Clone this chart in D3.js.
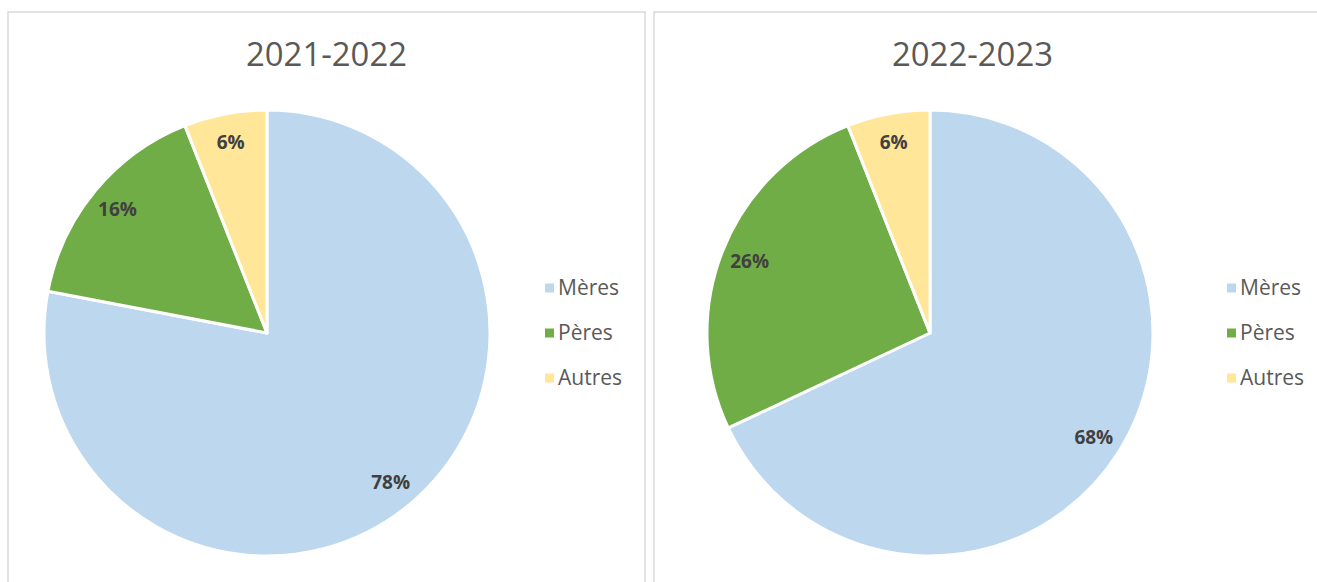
<!DOCTYPE html>
<html>
<head>
<meta charset="utf-8">
<script src="https://cdn.jsdelivr.net/npm/d3@7"></script>
<style>
  body { margin: 0; background: #fff; }
  svg { display: block; }
</style>
</head>
<body>
<svg></svg>
<script>
const categories = ["Mères", "Pères", "Autres"];
const titles = ["2021-2022", "2022-2023"];
const values2122 = [78, 16, 6];
const values2223 = [68, 26, 6];
const colors = ["#BDD7EE", "#70AD47", "#FFE699"];

const width = 1317, height = 582;
const svg = d3.select("svg").attr("width", width).attr("height", height);

const panels = [
  { x: 8, w: 637, cx: 267, title: titles[0], values: values2122, legendX: 545 },
  { x: 654, w: 700, cx: 930, title: titles[1], values: values2223, legendX: 1227 }
];

const radius = 223, cy = 333;
const pie = d3.pie().sort(null).value(d => d);
const arc = d3.arc().innerRadius(0).outerRadius(radius);
const labelArc = d3.arc().innerRadius(radius * 0.87).outerRadius(radius * 0.87);

const color = d3.scaleOrdinal().domain(categories).range(colors);

panels.forEach(p => {
  const g = svg.append("g");

  // panel frame
  g.append("rect")
    .attr("x", p.x).attr("y", 12)
    .attr("width", p.w).attr("height", 620)
    .attr("fill", "#fff")
    .attr("stroke", "#d9d9d9")
    .attr("stroke-width", 1.5);

  g.append("text")
    .attr("x", p.x + 637 / 2)
    .attr("y", 66)
    .attr("text-anchor", "middle")
    .attr("textLength", 161)
    .attr("lengthAdjust", "spacingAndGlyphs")
    .style("font-family", "'Open Sans', sans-serif")
    .style("font-size", "33px")
    .style("fill", "#595959")
    .text(p.title);

  const arcs = pie(p.values);
  const pg = g.append("g").attr("transform", `translate(${p.cx},${cy})`);

  pg.selectAll("path")
    .data(arcs)
    .join("path")
    .attr("d", arc)
    .attr("fill", (d, i) => color(categories[i]))
    .attr("stroke", "#fff")
    .attr("stroke-width", 3)
    .attr("stroke-linejoin", "round");

  pg.selectAll("text")
    .data(arcs)
    .join("text")
    .attr("transform", d => `translate(${labelArc.centroid(d)})`)
    .attr("text-anchor", "middle")
    .attr("dy", "0.35em")
    .style("font-family", "'Open Sans', sans-serif")
    .style("font-weight", "bold")
    .style("font-size", "19px")
    .style("fill", "#404040")
    .text(d => d.data + "%");

  // legend
  const lg = g.append("g").attr("transform", `translate(${p.legendX},0)`);
  categories.forEach((c, i) => {
    const y = 288 + i * 45;
    lg.append("rect")
      .attr("x", 0).attr("y", y - 4.5)
      .attr("width", 9).attr("height", 9)
      .attr("fill", color(c));
    lg.append("text")
      .attr("x", 13).attr("y", y)
      .attr("dy", "0.35em")
      .style("font-family", "'Open Sans', sans-serif")
      .style("font-size", "21px")
      .style("fill", "#595959")
      .text(c);
  });
});
</script>
</body>
</html>
